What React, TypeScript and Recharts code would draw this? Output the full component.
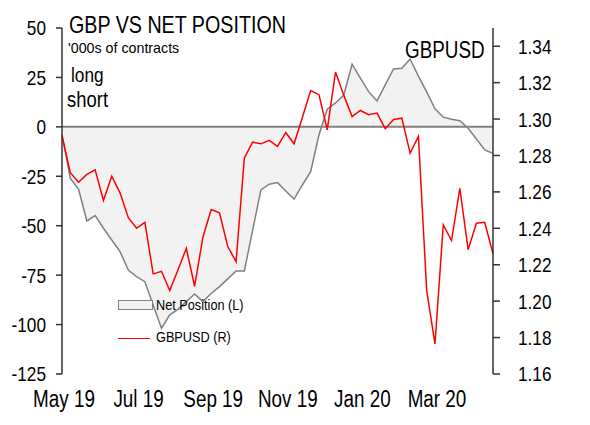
import { ComposedChart, Area, Line, XAxis, YAxis, ReferenceLine } from "recharts";

// GBP vs CFTC net position — weekly, May 2019 to May 2020.
// Left axis: net position ('000s of contracts), right axis: GBPUSD.
// The source uses a condensed Arial; we squeeze Liberation Sans horizontally.

const FONT = '"Liberation Sans", Arial, sans-serif';
const SQUEEZE = 0.82;

const X_LABELS = ["May 19", "Jul 19", "Sep 19", "Nov 19", "Jan 20", "Mar 20"];
const LABEL_WEEKS = [0, 9, 18, 27, 36, 45];

const LEFT_TICKS = [-125, -100, -75, -50, -25, 0, 25, 50];
const RIGHT_TICKS = [1.16, 1.18, 1.2, 1.22, 1.24, 1.26, 1.28, 1.3, 1.32, 1.34];

// net speculative position, '000s of contracts
const NET_POSITION = [
  -4.1, -26.0, -31.6, -47.6, -44.9, -51.3, -57.2, -63.1, -72.4, -75.8,
  -78.3, -90.1, -101.9, -95.1, -92.3, -88.4, -84.5, -88.4, -84.3, -80.8,
  -76.9, -72.9, -72.9, -52.2, -31.9, -29.0, -28.2, -32.4, -36.5, -29.4,
  -22.7, -4.1, 8.9, 12.1, 16.1, 31.7, 24.7, 17.8, 13.1, 21.2,
  29.3, 29.6, 34.3, 25.7, 17.7, 9.1, 4.9, 3.8, 3.1, -0.7,
  -6.1, -11.7, -13.4,
];

const GBPUSD = [
  1.291, 1.2705, 1.2653, 1.2696, 1.2721, 1.2553, 1.2686, 1.2595, 1.2458, 1.24,
  1.2433, 1.215, 1.2164, 1.2058, 1.2173, 1.229, 1.2082, 1.2351, 1.2503, 1.2485,
  1.23, 1.2217, 1.2787, 1.2873, 1.2864, 1.2883, 1.285, 1.2925, 1.2864, 1.3009,
  1.3157, 1.3134, 1.2941, 1.3258, 1.313, 1.3014, 1.3047, 1.3024, 1.3033, 1.2947,
  1.2998, 1.3005, 1.2813, 1.2905, 1.2058, 1.1765, 1.2419, 1.2333, 1.262, 1.2283,
  1.2428, 1.2433, 1.226,
];

const data = NET_POSITION.map((net, week) => ({ week, net, gbpusd: GBPUSD[week] }));

const AXIS = "#333333";
const GREY = "#808080";
const FILL = "#f2f2f2";
const RED = "#ff0000";

// squeezed svg tick label
function tickRenderer(size: number, anchor: string, dy: string, fmt: (v: any) => string, dx = 0) {
  return (props: any) => {
    const { x, y, payload } = props;
    return (
      <text
        transform={`translate(${x + dx},${y}) scale(${SQUEEZE},1)`}
        textAnchor={anchor}
        dy={dy}
        fontSize={size}
        fontFamily={FONT}
        fill="#000"
      >
        {fmt(payload.value)}
      </text>
    );
  };
}

function Label({ left, top, size, sx = SQUEEZE, children }: any) {
  return (
    <div
      style={{
        position: "absolute",
        left,
        top,
        fontSize: size,
        lineHeight: 1,
        fontFamily: FONT,
        color: "#000",
        whiteSpace: "nowrap",
        transform: `scaleX(${sx})`,
        transformOrigin: "0 0",
      }}
    >
      {children}
    </div>
  );
}

export default function App() {
  return (
    <div
      style={{
        position: "fixed",
        left: 0,
        top: 0,
        width: 590,
        height: 425,
        background: "#fff",
        overflow: "hidden",
      }}
    >
      <ComposedChart
        width={590}
        height={425}
        data={data}
        margin={{ top: 28, right: 0, bottom: 0, left: 0 }}
      >
        <XAxis
          type="number"
          dataKey="week"
          domain={[0, NET_POSITION.length - 1]}
          ticks={LABEL_WEEKS}
          interval={0}
          axisLine={false}
          tickLine={false}
          tickSize={0}
          tickMargin={17}
          height={51}
          tick={tickRenderer(23, "middle", "0.71em", (w) => X_LABELS[LABEL_WEEKS.indexOf(w)], 2)}
        />
        <YAxis
          yAxisId="l"
          domain={[-125, 50]}
          ticks={LEFT_TICKS}
          interval={0}
          width={62}
          tickSize={6}
          tickMargin={10}
          axisLine={{ stroke: AXIS, strokeWidth: 1.5 }}
          tickLine={{ stroke: AXIS, strokeWidth: 1.5 }}
          tick={tickRenderer(21, "end", "0.355em", (v) => String(v))}
        />
        <YAxis
          yAxisId="r"
          orientation="right"
          domain={[1.16, 1.35]}
          ticks={RIGHT_TICKS}
          interval={0}
          width={97}
          tickSize={7}
          tickMargin={18}
          axisLine={{ stroke: AXIS, strokeWidth: 1.5 }}
          tickLine={{ stroke: AXIS, strokeWidth: 1.5 }}
          tick={tickRenderer(21, "start", "0.355em", (v) => Number(v).toFixed(2))}
        />
        <Area
          yAxisId="l"
          type="linear"
          dataKey="net"
          baseValue={0}
          stroke={GREY}
          strokeWidth={1.5}
          fill={FILL}
          fillOpacity={1}
          dot={false}
          activeDot={false}
          isAnimationActive={false}
        />
        <ReferenceLine yAxisId="l" y={0} stroke={GREY} strokeWidth={2} />
        <Line
          yAxisId="r"
          type="linear"
          dataKey="gbpusd"
          stroke={RED}
          strokeWidth={1.5}
          dot={false}
          activeDot={false}
          isAnimationActive={false}
        />
      </ComposedChart>

      <Label left={69} top={13} size={24}>GBP VS NET POSITION</Label>
      <Label left={68} top={39.7} size={15} sx={0.95}>'000s of contracts</Label>
      <Label left={71} top={64} size={21}>long</Label>
      <Label left={66.5} top={88.7} size={22.5}>short</Label>
      <Label left={405} top={38.7} size={23}>GBPUSD</Label>

      <div
        style={{
          position: "absolute",
          left: 118,
          top: 300,
          width: 33,
          height: 8,
          background: FILL,
          border: `1px solid ${GREY}`,
        }}
      />
      <Label left={156} top={297} size={15.5}>Net Position (L)</Label>
      <div
        style={{
          position: "absolute",
          left: 118,
          top: 337.5,
          width: 32,
          height: 1.5,
          background: RED,
        }}
      />
      <Label left={156} top={329} size={15.5}>GBPUSD (R)</Label>
    </div>
  );
}
